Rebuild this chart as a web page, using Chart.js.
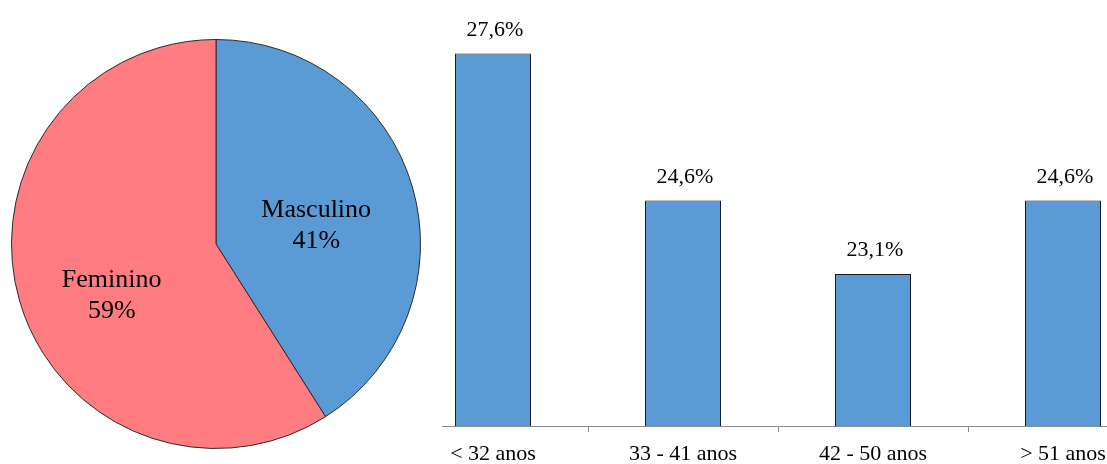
<!DOCTYPE html>
<html>
<head>
<meta charset="utf-8">
<script src="https://cdn.jsdelivr.net/npm/chart.js@4/dist/chart.umd.min.js"></script>
<style>
  html, body { margin: 0; padding: 0; background: #fff; }
  body { width: 1107px; height: 464px; position: relative; overflow: hidden; }
  #pieBox { position: absolute; left: 0; top: 0; width: 442px; height: 464px; background: #fff; z-index: 2; }
  #barBox { position: absolute; left: 398px; top: 0; width: 760px; height: 464px; z-index: 1; }
</style>
</head>
<body>
<div id="pieBox"><canvas id="pie"></canvas></div>
<div id="barBox"><canvas id="bar"></canvas></div>
<script>
// Sexo
const sexLabels = ['Masculino', 'Feminino'];
const sexValues = [41, 59];
const sexColors = ['#5B9BD5', '#FF7C80'];
// Label anchors inside the pie, as fractions of the radius from its centre
const sexLabelAnchors = [[0.49, -0.09], [-0.51, 0.25]];

// Faixa etária
const ageLabels = ['< 32 anos', '33 - 41 anos', '42 - 50 anos', '> 51 anos'];
const ageValues = [27.6, 24.6, 23.1, 24.6];
const ageAxisMin = 20;
const ageAxisMax = 28;

const serif = '"Liberation Serif", "Times New Roman", serif';
Chart.defaults.font.family = serif;
Chart.defaults.color = '#000';

const pieLabelPlugin = {
  id: 'pieLabels',
  afterDatasetsDraw(chart) {
    const ctx = chart.ctx;
    const meta = chart.getDatasetMeta(0);
    ctx.save();
    ctx.font = '26px ' + serif;
    ctx.fillStyle = '#000';
    ctx.textAlign = 'center';
    ctx.textBaseline = 'middle';
    meta.data.forEach((arc, i) => {
      const r = arc.outerRadius;
      const cx = arc.x + sexLabelAnchors[i][0] * r;
      const cy = arc.y + sexLabelAnchors[i][1] * r;
      const v = chart.data.datasets[0].data[i];
      ctx.fillText(chart.data.labels[i], cx, cy - 15);
      ctx.fillText(v + '%', cx, cy + 16);
    });
    ctx.restore();
  }
};

new Chart(document.getElementById('pie'), {
  type: 'pie',
  data: {
    labels: sexLabels,
    datasets: [{
      data: sexValues,
      backgroundColor: sexColors,
      borderColor: '#2b2b2b',
      borderWidth: 1
    }]
  },
  options: {
    responsive: true,
    maintainAspectRatio: false,
    animation: false,
    layout: { padding: { left: 11, right: 21, top: 39, bottom: 15 } },
    plugins: { legend: { display: false }, tooltip: { enabled: false } }
  },
  plugins: [pieLabelPlugin]
});

const barValuePlugin = {
  id: 'barValues',
  afterDatasetsDraw(chart) {
    const ctx = chart.ctx;
    const meta = chart.getDatasetMeta(0);
    ctx.save();
    ctx.font = '22px ' + serif;
    ctx.fillStyle = '#000';
    ctx.textAlign = 'center';
    ctx.textBaseline = 'alphabetic';
    meta.data.forEach((bar, i) => {
      const v = chart.data.datasets[0].data[i];
      ctx.fillText(v.toFixed(1).replace('.', ',') + '%', bar.x + 2, bar.y - 18);
    });
    ctx.restore();
  }
};

new Chart(document.getElementById('bar'), {
  type: 'bar',
  data: {
    labels: ageLabels,
    datasets: [{
      data: ageValues,
      backgroundColor: '#5B9BD5',
      borderColor: '#1a1a1a',
      borderWidth: 1,
      categoryPercentage: 1,
      barPercentage: 0.4
    }]
  },
  options: {
    responsive: true,
    maintainAspectRatio: false,
    animation: false,
    layout: { padding: { left: 0, right: 0, top: 34, bottom: 0 } },
    plugins: { legend: { display: false }, tooltip: { enabled: false } },
    scales: {
      x: {
        offset: true,
        grid: { offset: true, drawOnChartArea: false, drawTicks: true, tickLength: 6, color: '#8c8c8c' },
        border: { display: true, color: '#8c8c8c', width: 1 },
        ticks: { font: { size: 22, family: serif }, color: '#000', padding: 9, maxRotation: 0 },
        afterFit(scale) { scale.height = 38; }
      },
      y: {
        display: false,
        min: ageAxisMin,
        max: ageAxisMax
      }
    }
  },
  plugins: [barValuePlugin]
});
</script>
</body>
</html>
